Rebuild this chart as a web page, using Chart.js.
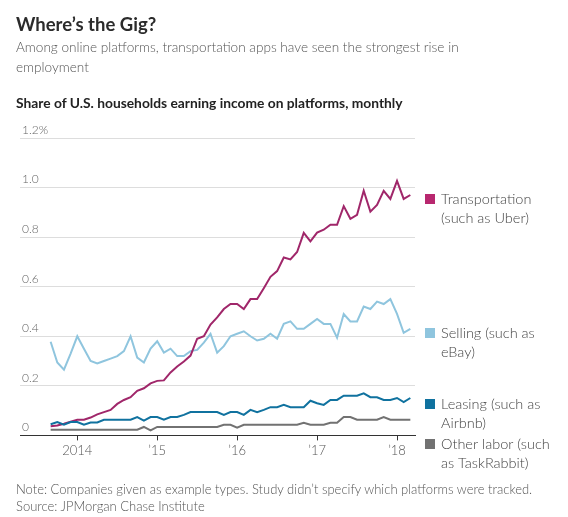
<!DOCTYPE html>
<html>
<head>
<meta charset="utf-8">
<script src="https://cdn.jsdelivr.net/npm/chart.js@4.4.1/dist/chart.umd.min.js"></script>
<style>
  body { margin: 0; background: #fff; font-family: Lato, "Noto Sans", sans-serif; }
  #wrap { position: relative; width: 568px; height: 517px; overflow: hidden; }
  #chart { position: absolute; left: 0; top: 0; }
  .txt { position: absolute; left: 16px; white-space: nowrap; }
  #title { top: 13px; font-size: 18.5px; font-weight: 700; color: #2b2b2b; }
  #sub { top: 37px; font-size: 13.6px; line-height: 20px; color: #555; font-weight: 300; }
  #ctitle { top: 94px; font-size: 13.8px; font-weight: 700; color: #222; }
  #note { top: 481px; font-size: 13px; line-height: 17px; color: #555; font-weight: 300; }
</style>
</head>
<body>
<div id="wrap">
  <canvas id="chart" width="568" height="517"></canvas>
  <div class="txt" id="title">Where’s the Gig?</div>
  <div class="txt" id="sub">Among online platforms, transportation apps have seen the strongest rise in<br>employment</div>
  <div class="txt" id="ctitle">Share of U.S. households earning income on platforms, monthly</div>
  <div class="txt" id="note">Note: Companies given as example types. Study didn’t specify which platforms were tracked.<br>Source: JPMorgan Chase Institute</div>
</div>
<script>
// Months covered (Sep 2013 - Mar 2018)
const months = [
  '2013-09', '2013-10', '2013-11', '2013-12',
  '2014-01', '2014-02', '2014-03', '2014-04', '2014-05', '2014-06', '2014-07', '2014-08', '2014-09', '2014-10', '2014-11', '2014-12',
  '2015-01', '2015-02', '2015-03', '2015-04', '2015-05', '2015-06', '2015-07', '2015-08', '2015-09', '2015-10', '2015-11', '2015-12',
  '2016-01', '2016-02', '2016-03', '2016-04', '2016-05', '2016-06', '2016-07', '2016-08', '2016-09', '2016-10', '2016-11', '2016-12',
  '2017-01', '2017-02', '2017-03', '2017-04', '2017-05', '2017-06', '2017-07', '2017-08', '2017-09', '2017-10', '2017-11', '2017-12',
  '2018-01', '2018-02', '2018-03'
];

// Share of households, percent
const transportation = [
  0.037, 0.040, 0.047, 0.055,
  0.063, 0.063, 0.072, 0.085, 0.094, 0.103, 0.127, 0.143, 0.154, 0.180, 0.190, 0.210,
  0.220, 0.222, 0.254, 0.278, 0.298, 0.322, 0.390, 0.400, 0.447, 0.476, 0.510, 0.530,
  0.530, 0.510, 0.550, 0.550, 0.594, 0.640, 0.663, 0.718, 0.710, 0.740, 0.817, 0.783,
  0.818, 0.830, 0.850, 0.850, 0.925, 0.874, 0.890, 0.987, 0.903, 0.930, 0.987, 0.954,
  1.027, 0.954, 0.970
];
const selling = [
  0.378, 0.294, 0.265, 0.330,
  0.400, 0.350, 0.300, 0.290, 0.300, 0.310, 0.320, 0.340, 0.400, 0.314, 0.294, 0.350,
  0.380, 0.334, 0.350, 0.320, 0.320, 0.340, 0.345, 0.374, 0.410, 0.334, 0.360, 0.400,
  0.410, 0.420, 0.400, 0.383, 0.390, 0.410, 0.390, 0.450, 0.460, 0.430, 0.430, 0.450,
  0.470, 0.450, 0.450, 0.394, 0.490, 0.460, 0.460, 0.520, 0.510, 0.540, 0.530, 0.550,
  0.490, 0.414, 0.430
];
const leasing = [
  0.045, 0.054, 0.043, 0.054,
  0.054, 0.043, 0.052, 0.052, 0.063, 0.063, 0.063, 0.063, 0.063, 0.074, 0.060, 0.074,
  0.074, 0.063, 0.074, 0.074, 0.083, 0.094, 0.094, 0.094, 0.094, 0.094, 0.083, 0.094,
  0.094, 0.083, 0.103, 0.094, 0.103, 0.114, 0.114, 0.123, 0.114, 0.114, 0.114, 0.140,
  0.130, 0.123, 0.143, 0.143, 0.160, 0.160, 0.160, 0.170, 0.154, 0.154, 0.143, 0.143,
  0.151, 0.134, 0.151
];
const otherLabor = [
  0.023, 0.023, 0.023, 0.023,
  0.023, 0.023, 0.023, 0.023, 0.023, 0.023, 0.023, 0.023, 0.023, 0.023, 0.034, 0.020,
  0.034, 0.034, 0.034, 0.034, 0.034, 0.034, 0.034, 0.034, 0.034, 0.034, 0.043, 0.043,
  0.031, 0.043, 0.043, 0.043, 0.043, 0.043, 0.043, 0.043, 0.043, 0.043, 0.051, 0.043,
  0.043, 0.043, 0.051, 0.051, 0.074, 0.074, 0.063, 0.063, 0.063, 0.063, 0.074, 0.063,
  0.063, 0.063, 0.063
];

// Axis ticks
const yearTickMonths = ['2014-01', '2015-01', '2016-01', '2017-01', '2018-01'];
const yearTickLabels = ['2014', '’15', '’16', '’17', '’18'];
const yTickValues = [0, 0.2, 0.4, 0.6, 0.8, 1.0, 1.2];
const yTickLabels = ['0', '0.2', '0.4', '0.6', '0.8', '1.0', '1.2%'];

const seriesNames = [
  ['Transportation', '(such as Uber)'],
  ['Selling (such as', 'eBay)'],
  ['Leasing (such as', 'Airbnb)'],
  ['Other labor (such', 'as TaskRabbit)']
];
const seriesColors = ['#a0276a', '#8fc5de', '#10729f', '#727272'];
const legendColors = ['#b8286f', '#8fc5de', '#10729f', '#727272'];

// months since Jan 2014, used as the x value
function monthIndex(label) {
  const [y, m] = label.split('-').map(Number);
  return (y - 2014) * 12 + (m - 1);
}
function toPoints(values) {
  return values.map((v, i) => ({ x: monthIndex(months[i]), y: v }));
}

const allSeries = [transportation, selling, leasing, otherLabor];

// legend drawn beside the lines
const sideLegend = {
  id: 'sideLegend',
  afterDraw(chart) {
    const ctx = chart.ctx;
    const rows = [199, 333, 404, 444];
    ctx.save();
    ctx.font = '300 14.5px Lato, "Noto Sans", sans-serif';
    ctx.textBaseline = 'middle';
    ctx.textAlign = 'left';
    seriesNames.forEach((lines, i) => {
      ctx.fillStyle = legendColors[i];
      ctx.fillRect(425, rows[i] - 5, 10, 10);
      ctx.fillStyle = '#444';
      lines.forEach((t, j) => ctx.fillText(t, 441, rows[i] + j * 19));
    });
    ctx.restore();
  }
};

const ctx = document.getElementById('chart').getContext('2d');
new Chart(ctx, {
  type: 'line',
  data: {
    datasets: allSeries.map((vals, i) => ({
      label: seriesNames[i].join(' '),
      data: toPoints(vals),
      borderColor: seriesColors[i],
      backgroundColor: seriesColors[i],
      borderWidth: 2,
      pointRadius: 0,
      tension: 0,
      order: [2, 4, 1, 3][i]
    }))
  },
  options: {
    responsive: false,
    animation: false,
    layout: { padding: { left: 16, right: 153, top: 138, bottom: 55 } },
    plugins: { legend: { display: false }, tooltip: { enabled: false } },
    scales: {
      x: {
        type: 'linear',
        min: -8.6,
        max: 50.7,
        afterBuildTicks: axis => { axis.ticks = yearTickMonths.map(m => ({ value: monthIndex(m) })); },
        grid: { drawOnChartArea: false, drawTicks: true, tickLength: 5, color: '#333' },
        border: { display: true, color: '#333', width: 1 },
        ticks: {
          color: '#555',
          font: { family: 'Lato, "Noto Sans", sans-serif', size: 13, weight: '300' },
          padding: 3,
          maxRotation: 0,
          callback: v => yearTickLabels[yearTickMonths.findIndex(m => monthIndex(m) === v)]
        }
      },
      y: {
        min: 0,
        max: 1.2,
        afterBuildTicks: axis => { axis.ticks = yTickValues.map(v => ({ value: v })); },
        grid: { color: '#dddddd', drawTicks: false, lineWidth: 1 },
        border: { display: false },
        ticks: {
          mirror: true,
          padding: 2,
          labelOffset: -8,
          color: '#666',
          font: { family: 'Lato, "Noto Sans", sans-serif', size: 12, weight: '300' },
          callback: v => yTickLabels[yTickValues.findIndex(t => Math.abs(t - v) < 1e-6)]
        }
      }
    }
  },
  plugins: [sideLegend]
});
</script>
</body>
</html>
